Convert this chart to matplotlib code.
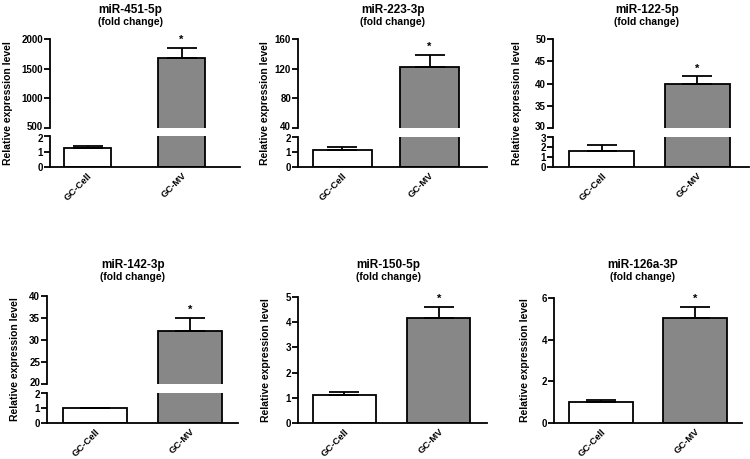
import matplotlib
matplotlib.use("Agg")
import matplotlib.pyplot as plt
from matplotlib.transforms import ScaledTranslation

plt.rcParams["font.family"] = ["Liberation Sans", "DejaVu Sans"]
plt.rcParams["font.weight"] = "bold"

# data
mirnas = ["miR-451-5p", "miR-223-3p", "miR-122-5p", "miR-142-3p", "miR-150-5p", "miR-126a-3P"]
groups = ["GC-Cell", "GC-MV"]
cell_mean = [1.2, 1.16, 1.6, 0.98, 1.11, 0.99]
cell_err = [0.17, 0.17, 0.57, 0.0, 0.13, 0.11]
mv_mean = [1685, 122, 40.0, 32.1, 4.15, 5.03]
mv_err = [170, 17, 1.65, 2.9, 0.45, 0.54]
upper_ticks = [[500, 1000, 1500, 2000], [40, 80, 120, 160], [30, 35, 40, 45, 50],
               [20, 25, 30, 35, 40], None, None]
lower_ticks = [[0, 1, 2], [0, 1, 2], [0, 1, 2, 3], [0, 1, 2],
               [0, 1, 2, 3, 4, 5], [0, 2, 4, 6]]

# layout in pixels of the 750x459 canvas
W, H = 750, 459
# spine x, axis right end, top y, upper bottom y (or None), lower top y, zero y
frames = [
    (50, 240, 39, 128, 136, 167),
    (298, 487, 39, 128, 137, 167),
    (553, 749, 39, 128, 137, 167),
    (47, 238, 296, 384, 393, 423),
    (298, 487, 297, None, 297, 423),
    (554, 742, 298, None, 298, 423),
]
xlims = [(-0.4, 1.62), (-0.51, 1.66), (-0.51, 1.54), (-0.5, 1.5), (-0.49, 1.51), (-0.5, 1.5)]
bar_widths = [0.5, 0.68, 0.68, 0.67, 0.67, 0.68]
title_x = [130, 393, 647, 133, 388, 643]
title_y = [(10, 22), (10, 22), (10, 22), (265, 277), (265, 277), (265, 277)]
ylabel_x = [8, 265, 517, 15, 266, 525]

fig = plt.figure(figsize=(7.5, 4.59), dpi=100)

TICK_FS = 7
EDGE = 1.3
MV_COLOR = "#878787"


def style(ax, bottom_spine):
    for s in ["top", "right"]:
        ax.spines[s].set_visible(False)
    ax.spines["bottom"].set_visible(bottom_spine)
    ax.spines["left"].set_linewidth(EDGE)
    ax.spines["bottom"].set_linewidth(EDGE)
    ax.tick_params(axis="y", direction="out", length=4, width=EDGE, labelsize=TICK_FS, pad=1)
    for lab in ax.get_yticklabels():
        lab.set_fontweight("bold")


def nudge(label, dy_px):
    label.set_transform(label.get_transform()
                        + ScaledTranslation(0, dy_px / 100, fig.dpi_scale_trans))


def draw_bars(ax, i):
    x = [0, 1]
    ax.bar(x, [cell_mean[i], mv_mean[i]], width=bar_widths[i],
           color=["white", MV_COLOR], edgecolor="black", linewidth=EDGE)
    ax.errorbar(x, [cell_mean[i], mv_mean[i]],
                yerr=[[0, 0], [cell_err[i], mv_err[i]]],
                fmt="none", ecolor="black", elinewidth=EDGE, capsize=11, capthick=EDGE)
    ax.set_xlim(*xlims[i])


for i in range(6):
    xl, xr, ytop, yub, ylt, y0 = frames[i]
    left = xl / W
    width = (xr - xl) / W
    low = fig.add_axes([left, 1 - y0 / H, width, (y0 - ylt) / H])
    draw_bars(low, i)
    lt = lower_ticks[i]
    low.set_ylim(lt[0], lt[-1])
    low.set_yticks(lt)
    style(low, True)
    low.set_xticks([0, 1])
    low.set_xticklabels(groups, rotation=45, ha="right", rotation_mode="anchor",
                        fontsize=6.8, fontweight="bold")
    low.tick_params(axis="x", length=0, pad=3)

    star_ax = low
    if yub is not None:
        up = fig.add_axes([left, 1 - yub / H, width, (yub - ytop) / H])
        draw_bars(up, i)
        ut = upper_ticks[i]
        up.set_ylim(ut[0], ut[-1])
        up.set_yticks(ut)
        up.set_xticks([])
        style(up, False)
        # keep the two labels at the break apart
        nudge(up.get_yticklabels()[0], 1.5)
        nudge(low.get_yticklabels()[-1], -1.5)
        star_ax = up

    star_ax.annotate("*", (1, mv_mean[i] + mv_err[i]), xytext=(0, 2),
                     textcoords="offset points", ha="center", va="bottom",
                     fontsize=8, fontweight="bold")

    fig.text(title_x[i] / W, 1 - title_y[i][0] / H, mirnas[i], ha="center", va="center",
             fontsize=8.5, fontweight="bold")
    fig.text(title_x[i] / W, 1 - title_y[i][1] / H, "(fold change)", ha="center",
             va="center", fontsize=7.5, fontweight="bold")
    fig.text(ylabel_x[i] / W, 1 - (ytop + y0) / 2 / H, "Relative expression level",
             rotation=90, ha="center", va="center", fontsize=7.5, fontweight="bold")

fig.savefig("out.png", dpi=100)
